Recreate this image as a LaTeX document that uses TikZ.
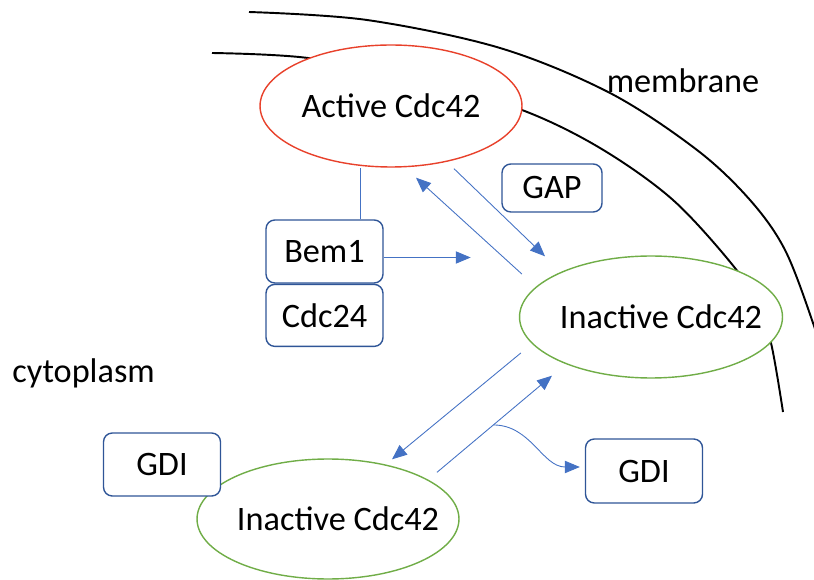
\documentclass[tikz,border=0pt]{standalone}
\usepackage{fontspec}
\setmainfont{Carlito}
\usepackage{tikz}
\usetikzlibrary{arrows.meta,positioning,calc,shapes.geometric}
\definecolor{actred}{HTML}{E8412B}
\definecolor{inagreen}{HTML}{70AD47}
\definecolor{boxblue}{HTML}{2F5597}
\definecolor{flowblue}{HTML}{4472C4}

\begin{document}
\begin{tikzpicture}[
    x=0.02cm,
    y=-0.02cm,
    cdc/.style={
        ellipse,
        fill=white,
        line width=0.8pt,
        minimum width=5.24cm,
        minimum height=2.44cm,
        inner sep=0pt,
        font=\fontsize{19.5}{23}\selectfont,
    },
    prot/.style={
        draw=boxblue,
        fill=white,
        rounded corners=5pt,
        line width=0.8pt,
        minimum width=2.34cm,
        minimum height=1.26cm,
        inner sep=0pt,
        font=\fontsize{19.5}{23}\selectfont,
    },
    lbl/.style={
        inner sep=0pt,
        font=\fontsize{19.5}{23}\selectfont,
    },
    memb/.style={
        line width=1.1pt,
        color=black,
    },
    flow/.style={
        -{Triangle[length=8.5pt,width=7pt]},
        line width=0.5pt,
        color=flowblue,
    },
]
\clip (0,0) rectangle (814,580);

% membrane
\draw[memb] plot[smooth,tension=0.55] coordinates {(249,12) (367,20) (500,48) (610,93) (697,150) (750,200) (785,250) (813,323) (830,380)};
\draw[memb] plot[smooth,tension=0.55] coordinates {(212,53) (308,58) (420,80) (522,110) (600,148) (673,200) (735,268) (757,305) (771,343) (783,412)};

\node[lbl,anchor=base] (memlbl) at (683,93) {membrane};
\node[lbl,anchor=base west] (cyto) at (12,383) {cytoplasm};

\node[cdc,draw=actred] (act) at (391,106) {\makebox[0pt]{Active Cdc42}};
\node[cdc,draw=inagreen,minimum width=5.26cm] (inU) at (651,317) {\makebox[0pt]{\hspace*{0.4cm}Inactive Cdc42}};
\node[cdc,draw=inagreen,minimum height=2.4cm] (inL) at (328,519) {\makebox[0pt]{\hspace*{0.4cm}Inactive Cdc42}};

\node[prot,minimum width=2cm,minimum height=0.96cm] (gap) at (552,188) {GAP};
\node[prot] (bem) at (324.5,251.5) {Bem1};
\node[prot,minimum height=1.24cm,below=0pt of bem] (cdc24) {Cdc24};
\node[prot] (gdiL) at (162,464.5) {GDI};
\node[prot,minimum height=1.28cm] (gdiR) at (644,471) {GDI};

\draw[flow,-] ($(bem.north)+(36,0)$) coordinate (bemtop) -- (bemtop |- act.south);
\draw[flow] ($(bem.east)+(0,6)$) -- +(87,0);
\draw[flow] ($(inU.west)+(3,-43)$) -- ($(act.south)+(25,10)$);
\draw[flow] ($(act.south)+(63,1)$) -- ($(inU.north)+(-106,1)$);
\draw[flow] ($(inU.west)+(2,36)$) -- ($(inL.north)+(64,1)$);
\draw[flow] ($(inL.north)+(109,14)$) -- coordinate[pos=0.49] (fork) ($(inU.south)+(-99,-3)$);
\draw[flow] (fork) to[out=0,in=180] ($(gdiR.west)+(-5,-4)$);
\end{tikzpicture}
\end{document}
